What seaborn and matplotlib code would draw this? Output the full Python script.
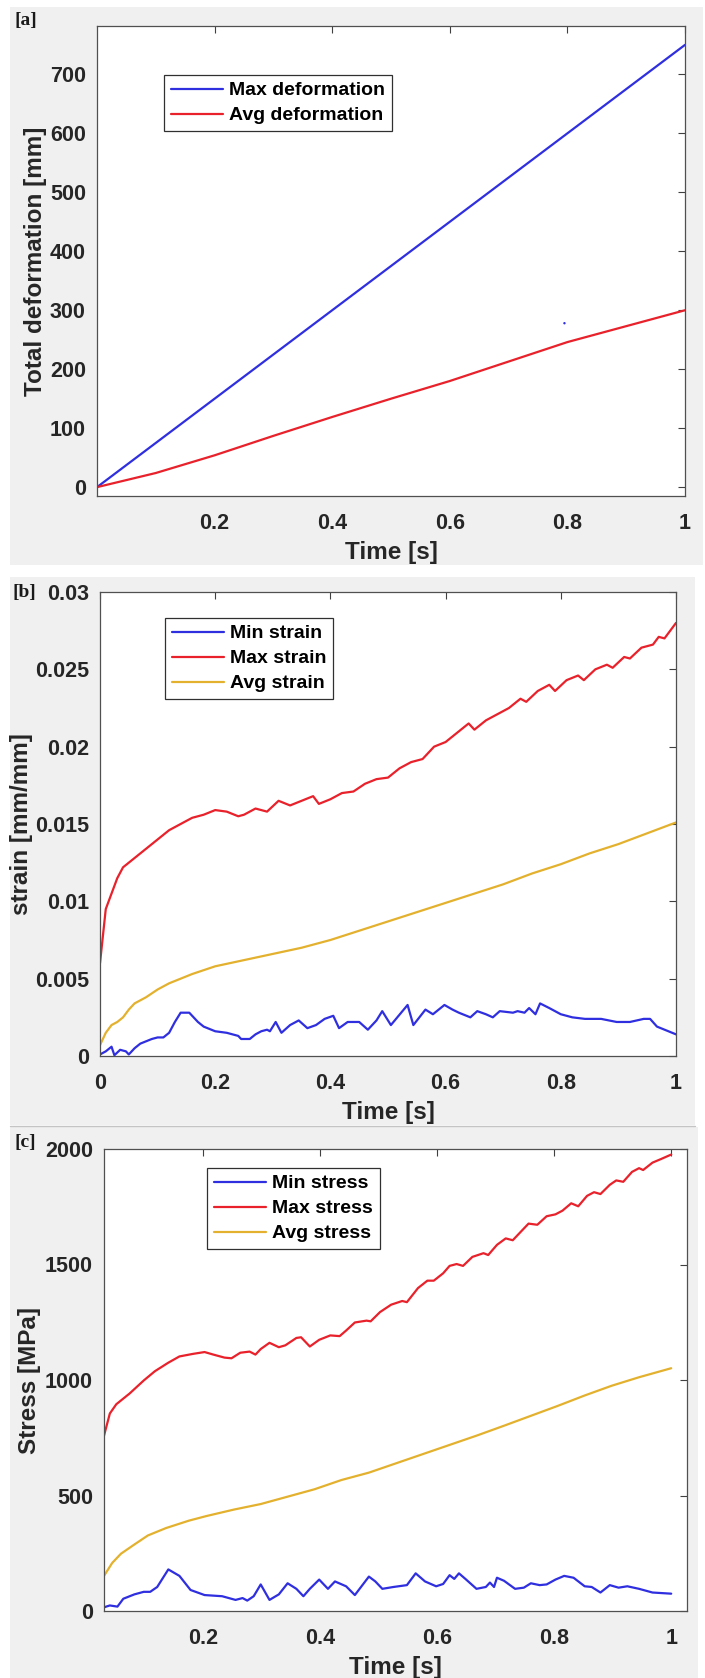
import matplotlib
matplotlib.use("Agg")
import matplotlib.pyplot as plt
from matplotlib.patches import Rectangle
from matplotlib.lines import Line2D
from matplotlib.ticker import FuncFormatter
import pandas as pd
import seaborn as sns

# ---- data (time [s], value) ----
# [a] total deformation [mm]
max_deformation = [(0.0, 0), (1.0, 750)]
avg_deformation = [(0.0, 0), (0.1, 24), (0.2, 54), (0.3, 87), (0.4, 119), (0.5, 150),
                   (0.6, 180), (0.7, 213), (0.8, 246), (0.9, 273), (1.0, 300)]
stray_point = [(0.795, 278)]

# [b] strain [mm/mm]
min_strain = [(0.0, 0.0001), (0.01, 0.0003), (0.02, 0.0006), (0.025, 0.00005), (0.035, 0.0004),
              (0.045, 0.0003), (0.05, 0.0001), (0.06, 0.0005), (0.07, 0.0008), (0.09, 0.0011),
              (0.10, 0.0012), (0.11, 0.0012), (0.12, 0.0015), (0.13, 0.0022), (0.14, 0.0028),
              (0.155, 0.0028), (0.17, 0.0022), (0.18, 0.0019), (0.20, 0.0016), (0.22, 0.0015),
              (0.24, 0.0013), (0.245, 0.0011), (0.26, 0.0011), (0.27, 0.0014), (0.28, 0.0016),
              (0.29, 0.0017), (0.295, 0.0016), (0.305, 0.0022), (0.315, 0.0015), (0.33, 0.0020),
              (0.345, 0.0023), (0.36, 0.0018), (0.375, 0.0020), (0.39, 0.0024), (0.405, 0.0026),
              (0.415, 0.0018), (0.43, 0.0022), (0.45, 0.0022), (0.465, 0.0017), (0.48, 0.0023),
              (0.49, 0.0029), (0.505, 0.0020), (0.534, 0.0033), (0.544, 0.0020), (0.565, 0.0030),
              (0.578, 0.0027), (0.598, 0.0033), (0.612, 0.0030), (0.623, 0.0028), (0.643, 0.0025),
              (0.655, 0.0029), (0.67, 0.0027), (0.682, 0.0025), (0.694, 0.0029), (0.717, 0.0028),
              (0.725, 0.0029), (0.737, 0.0028), (0.745, 0.0031), (0.756, 0.0027), (0.764, 0.0034),
              (0.78, 0.0031), (0.80, 0.0027), (0.82, 0.0025), (0.842, 0.0024), (0.87, 0.0024),
              (0.897, 0.0022), (0.92, 0.0022), (0.944, 0.0024), (0.955, 0.0024), (0.967, 0.0019),
              (1.0, 0.0014)]
max_strain = [(0.0, 0.0060), (0.01, 0.0095), (0.02, 0.0105), (0.03, 0.0115), (0.04, 0.0122),
              (0.05, 0.0125), (0.06, 0.0128), (0.08, 0.0134), (0.10, 0.0140), (0.12, 0.0146),
              (0.14, 0.0150), (0.16, 0.0154), (0.18, 0.0156), (0.20, 0.0159), (0.22, 0.0158),
              (0.24, 0.0155), (0.25, 0.0156), (0.27, 0.0160), (0.29, 0.0158), (0.31, 0.0165),
              (0.33, 0.0162), (0.35, 0.0165), (0.37, 0.0168), (0.38, 0.0163), (0.40, 0.0166),
              (0.42, 0.0170), (0.44, 0.0171), (0.46, 0.0176), (0.48, 0.0179), (0.50, 0.0180),
              (0.52, 0.0186), (0.54, 0.0190), (0.56, 0.0192), (0.58, 0.0200), (0.60, 0.0203),
              (0.62, 0.0209), (0.64, 0.0215), (0.65, 0.0211), (0.67, 0.0217), (0.69, 0.0221),
              (0.71, 0.0225), (0.73, 0.0231), (0.74, 0.0229), (0.76, 0.0236), (0.78, 0.0240),
              (0.79, 0.0236), (0.81, 0.0243), (0.83, 0.0246), (0.84, 0.0243), (0.86, 0.0250),
              (0.88, 0.0253), (0.89, 0.0251), (0.91, 0.0258), (0.92, 0.0257), (0.94, 0.0264),
              (0.96, 0.0266), (0.97, 0.0271), (0.98, 0.0270), (1.0, 0.0280)]
avg_strain = [(0.0, 0.0007), (0.01, 0.0015), (0.02, 0.0020), (0.03, 0.0022), (0.04, 0.0025),
              (0.05, 0.0030), (0.06, 0.0034), (0.08, 0.0038), (0.10, 0.0043), (0.12, 0.0047),
              (0.14, 0.0050), (0.16, 0.0053), (0.20, 0.0058), (0.25, 0.0062), (0.30, 0.0066),
              (0.35, 0.0070), (0.40, 0.0075), (0.45, 0.0081), (0.50, 0.0087), (0.55, 0.0093),
              (0.60, 0.0099), (0.65, 0.0105), (0.70, 0.0111), (0.75, 0.0118), (0.80, 0.0124),
              (0.85, 0.0131), (0.90, 0.0137), (0.95, 0.0144), (1.0, 0.0151)]

# [c] stress [MPa]
min_stress = [(0.030, 16), (0.040, 24), (0.053, 19), (0.063, 53), (0.082, 72), (0.098, 83),
              (0.109, 83), (0.121, 104), (0.140, 180), (0.159, 152), (0.178, 91), (0.202, 69),
              (0.232, 64), (0.255, 48), (0.267, 56), (0.275, 45), (0.286, 64), (0.298, 115),
              (0.313, 48), (0.329, 72), (0.344, 120), (0.359, 96), (0.371, 64), (0.382, 96),
              (0.398, 136), (0.413, 96), (0.425, 128), (0.444, 107), (0.459, 69), (0.483, 149),
              (0.494, 128), (0.506, 96), (0.525, 104), (0.548, 112), (0.563, 163), (0.579, 128),
              (0.598, 107), (0.610, 117), (0.621, 155), (0.629, 139), (0.637, 163), (0.648, 139),
              (0.667, 96), (0.683, 104), (0.690, 123), (0.697, 104), (0.702, 144), (0.714, 131),
              (0.733, 96), (0.748, 101), (0.760, 120), (0.775, 112), (0.787, 115), (0.802, 136),
              (0.817, 152), (0.833, 144), (0.852, 107), (0.864, 104), (0.879, 80), (0.895, 112),
              (0.910, 101), (0.925, 107), (0.945, 96), (0.968, 80), (1.000, 75)]
max_stress = [(0.030, 759), (0.040, 855), (0.051, 895), (0.074, 942), (0.098, 998), (0.117, 1038),
              (0.140, 1075), (0.159, 1102), (0.182, 1113), (0.202, 1121), (0.217, 1110),
              (0.236, 1097), (0.248, 1094), (0.263, 1118), (0.279, 1123), (0.289, 1110),
              (0.298, 1134), (0.313, 1161), (0.329, 1142), (0.340, 1150), (0.359, 1182),
              (0.367, 1185), (0.382, 1145), (0.398, 1174), (0.417, 1193), (0.433, 1190),
              (0.444, 1214), (0.459, 1249), (0.479, 1257), (0.486, 1254), (0.502, 1294),
              (0.521, 1326), (0.540, 1342), (0.548, 1337), (0.567, 1398), (0.583, 1430),
              (0.594, 1430), (0.610, 1462), (0.621, 1494), (0.633, 1502), (0.644, 1494),
              (0.660, 1533), (0.679, 1549), (0.687, 1541), (0.702, 1585), (0.717, 1613),
              (0.729, 1605), (0.744, 1645), (0.756, 1677), (0.771, 1672), (0.787, 1709),
              (0.802, 1717), (0.814, 1733), (0.829, 1765), (0.841, 1752), (0.856, 1797),
              (0.868, 1813), (0.879, 1805), (0.895, 1845), (0.906, 1864), (0.918, 1858),
              (0.933, 1901), (0.945, 1917), (0.952, 1909), (0.968, 1941), (0.983, 1957),
              (1.000, 1976)]
avg_stress = [(0.030, 152), (0.044, 208), (0.059, 248), (0.082, 288), (0.105, 327), (0.136, 359),
              (0.175, 391), (0.205, 411), (0.252, 439), (0.298, 463), (0.344, 495), (0.390, 527),
              (0.436, 567), (0.483, 599), (0.529, 639), (0.575, 679), (0.621, 719), (0.667, 759),
              (0.714, 802), (0.760, 845), (0.806, 888), (0.852, 933), (0.898, 975), (0.945, 1012),
              (1.000, 1051)]

BLUE = "#2f2fe0"
RED = "#e8212b"
YELLOW = "#e3b12e"
PANEL_GRAY = "#f0f0f0"
TEXT = "#262626"

W, H = 705, 1678

sns.set_theme(style="white")
plt.rcParams["font.family"] = ["Liberation Sans", "DejaVu Sans"]
plt.rcParams["font.weight"] = "bold"

fig = plt.figure(figsize=(W / 100, H / 100), dpi=100)
fig.patch.set_facecolor("white")


def px_box(x0, y0, x1, y1):
    """pixel box (top-left origin) -> figure fraction [l, b, w, h]"""
    return [x0 / W, (H - y1) / H, (x1 - x0) / W, (y1 - y0) / H]


# gray panel backgrounds (behind the axes)
for x0, y0, x1, y1 in [(10, 7, 703, 565), (10, 577, 695, 1125), (10, 1127, 698, 1678)]:
    l, b, w, h = px_box(x0, y0, x1, y1)
    fig.patches.append(Rectangle((l, b), w, h, transform=fig.transFigure,
                                 facecolor=PANEL_GRAY, edgecolor="none", zorder=-10))
fig.lines.append(Line2D([10 / W, 695 / W], [(H - 1125.5) / H] * 2, transform=fig.transFigure,
                        color="#c4c4c4", lw=1.0, zorder=-5))


def to_df(pairs):
    return pd.DataFrame(pairs, columns=["t", "v"])


def style_axes(ax, xlim, ylim, xticks, yticks, ylabel, ylabelpad):
    ax.set_zorder(5)
    ax.set_facecolor("white")
    ax.set_xlim(*xlim)
    ax.set_ylim(*ylim)
    ax.set_xticks(xticks)
    ax.set_yticks(yticks)
    fmt = FuncFormatter(lambda v, _: f"{v:g}")
    ax.xaxis.set_major_formatter(fmt)
    ax.yaxis.set_major_formatter(fmt)
    ax.tick_params(direction="in", length=5, width=0.8, color="#404040",
                   top=True, right=True, labelsize=15.5, labelcolor=TEXT)
    ax.tick_params(axis="y", pad=8)
    ax.tick_params(axis="x", pad=12)
    for lab in ax.get_xticklabels() + ax.get_yticklabels():
        lab.set_fontweight("bold")
    for s in ax.spines.values():
        s.set_color("#505050")
        s.set_linewidth(0.9)
        s.set_visible(True)
    ax.set_xlabel("Time [s]", fontsize=17.5, fontweight="bold", color=TEXT, labelpad=5)
    ax.set_ylabel(ylabel, fontsize=17.5, fontweight="bold", color=TEXT, labelpad=ylabelpad)


def add_legend(ax, x0, y0):
    leg = ax.legend(loc="upper left", bbox_to_anchor=(x0 / W, (H - y0) / H),
                    bbox_transform=fig.transFigure, borderaxespad=0, frameon=True,
                    fancybox=False, framealpha=1, edgecolor="#303030",
                    prop={"size": 14, "weight": "bold"}, handlelength=2.7,
                    handletextpad=0.3, labelspacing=0.38, borderpad=0.35)
    leg.get_frame().set_linewidth(0.9)
    for t in leg.get_texts():
        t.set_color("black")


LW = 1.6

# ---- [a] ----
ax_a = fig.add_axes(px_box(97, 26, 685, 496))
sns.lineplot(data=to_df(max_deformation), x="t", y="v", ax=ax_a, color=BLUE, lw=LW,
             label="Max deformation", sort=False)
sns.lineplot(data=to_df(avg_deformation), x="t", y="v", ax=ax_a, color=RED, lw=LW,
             label="Avg deformation", sort=False)
sns.scatterplot(data=to_df(stray_point), x="t", y="v", ax=ax_a, color=BLUE, s=3,
                edgecolor="none", legend=False)
style_axes(ax_a, (0, 1), (-15, 782), [0.2, 0.4, 0.6, 0.8, 1],
           [0, 100, 200, 300, 400, 500, 600, 700], "Total deformation [mm]", 2)
add_legend(ax_a, 164, 75)

# ---- [b] ----
ax_b = fig.add_axes(px_box(100, 592, 676, 1056))
sns.lineplot(data=to_df(min_strain), x="t", y="v", ax=ax_b, color=BLUE, lw=LW,
             label="Min strain", sort=False)
sns.lineplot(data=to_df(max_strain), x="t", y="v", ax=ax_b, color=RED, lw=LW,
             label="Max strain", sort=False)
sns.lineplot(data=to_df(avg_strain), x="t", y="v", ax=ax_b, color=YELLOW, lw=LW,
             label="Avg strain", sort=False)
style_axes(ax_b, (0, 1), (0, 0.03), [0, 0.2, 0.4, 0.6, 0.8, 1],
           [0, 0.005, 0.01, 0.015, 0.02, 0.025, 0.03], "strain [mm/mm]", 1)
add_legend(ax_b, 165, 618)

# ---- [c] ----
ax_c = fig.add_axes(px_box(104, 1149, 687, 1611))
sns.lineplot(data=to_df(min_stress), x="t", y="v", ax=ax_c, color=BLUE, lw=LW,
             label="Min stress", sort=False)
sns.lineplot(data=to_df(max_stress), x="t", y="v", ax=ax_c, color=RED, lw=LW,
             label="Max stress", sort=False)
sns.lineplot(data=to_df(avg_stress), x="t", y="v", ax=ax_c, color=YELLOW, lw=LW,
             label="Avg stress", sort=False)
style_axes(ax_c, (0.03, 1.027), (0, 2000), [0.2, 0.4, 0.6, 0.8, 1],
           [0, 500, 1000, 1500, 2000], "Stress [MPa]", 3)
add_legend(ax_c, 207, 1168)

# panel tags
for tag, (x, y) in zip(["[a]", "[b]", "[c]"], [(26, 21), (24, 592), (25, 1142)]):
    fig.text(x / W, (H - y) / H, tag, ha="center", va="center", fontsize=14,
             fontweight="bold", family=["Liberation Serif", "DejaVu Serif"], color="#1a1a1a",
             zorder=10)

fig.savefig("out.png", dpi=100, facecolor=fig.get_facecolor())
